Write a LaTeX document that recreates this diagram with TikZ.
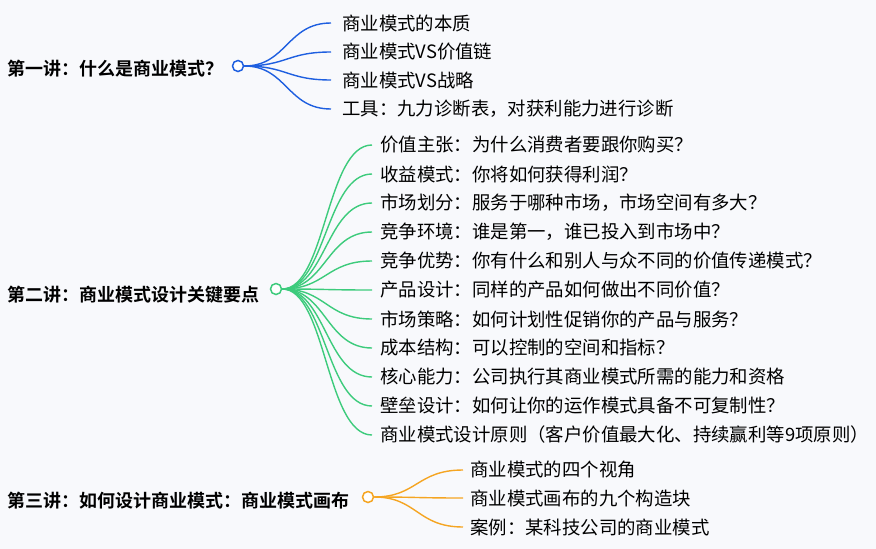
\documentclass[tikz,border=0pt]{standalone}
\usepackage{fontspec}
\setmainfont{Noto Sans CJK SC}
\newfontfamily\cjkb{Noto Sans CJK SC Bold}
\definecolor{bg}{HTML}{F8F9FC}
\definecolor{cb}{HTML}{1E5FE0}
\definecolor{cg}{HTML}{3DCB7C}
\definecolor{co}{HTML}{F5A522}
\begin{document}
\begin{tikzpicture}[x=1pt,y=-1pt,
  rootn/.style={anchor=west,inner sep=0pt,font=\cjkb\fontsize{18}{20}\selectfont},
  leaf/.style={anchor=west,inner sep=0pt,font=\fontsize{18.4}{20}\selectfont},
  hub/.style={circle,draw=#1,fill=white,line width=1.5pt,minimum size=11pt,inner sep=0pt},
  br/.style={draw=#1,line width=1.4pt}]
\fill[bg] (0,0) rectangle (876,549);
\useasboundingbox (0,0) rectangle (876,549);
% root 1
\node[rootn] (r1) at (7,69) {第一讲：什么是商业模式？};
\node[hub=cb] (h1) at (238,66) {};
\foreach \t/\y [count=\i] in {商业模式的本质/23,商业模式VS价值链/52,商业模式VS战略/80,工具：九力诊断表，对获利能力进行诊断/109}{
  \coordinate (e1\i) at (331,\y);
  \node[leaf] (a\i) at (342,\y) {\t};
  \draw[br=cb] (h1.east) .. controls (287,66) and (287,\y) .. (e1\i);
}
% root 2
\node[rootn] (r2) at (7,295) {第二讲：商业模式设计关键要点};
\node[hub=cg] (h2) at (276,289) {};
\foreach \t/\y [count=\i] in {价值主张：为什么消费者要跟你购买？/145,收益模式：你将如何获得利润？/174,市场划分：服务于哪种市场，市场空间有多大？/203,竞争环境：谁是第一，谁已投入到市场中？/232,竞争优势：你有什么和别人与众不同的价值传递模式？/261,产品设计：同样的产品如何做出不同价值？/290,市场策略：如何计划性促销你的产品与服务？/319,成本结构：可以控制的空间和指标？/348,核心能力：公司执行其商业模式所需的能力和资格/377,壁垒设计：如何让你的运作模式具备不可复制性？/406,商业模式设计原则（客户价值最大化、持续赢利等9项原则）/435}{
  \coordinate (e2\i) at (372,\y);
  \node[leaf] (b\i) at (380,\y) {\t};
  \draw[br=cg] (h2.east) .. controls (326,289) and (326,\y) .. (e2\i);
}
% root 3
\node[rootn] (r3) at (7,501) {第三讲：如何设计商业模式：商业模式画布};
\node[hub=co] (h3) at (368,497) {};
\foreach \t/\y [count=\i] in {商业模式的四个视角/470,商业模式画布的九个构造块/498,案例：某科技公司的商业模式/527}{
  \coordinate (e3\i) at (463,\y);
  \node[leaf] (c\i) at (470,\y) {\t};
  \draw[br=co] (h3.east) .. controls (417,497) and (417,\y) .. (e3\i);
}
\end{tikzpicture}
\end{document}
